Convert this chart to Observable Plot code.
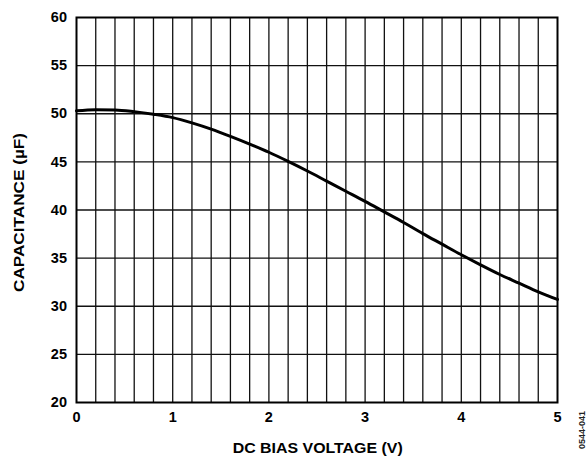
<!DOCTYPE html>
<html>
<head>
<meta charset="utf-8">
<script src="https://cdn.jsdelivr.net/npm/d3@7"></script>
<script src="https://cdn.jsdelivr.net/npm/@observablehq/plot@0.6"></script>
<style>
  html, body { margin: 0; padding: 0; background: #fff; }
  svg { display: block; }
</style>
</head>
<body>
<div id="chart"></div>
<script>
const voltage = [0, 0.2, 0.4, 0.6, 0.8, 1.0, 1.2, 1.4, 1.6, 1.8, 2.0, 2.2, 2.4, 2.6, 2.8, 3.0, 3.2, 3.4, 3.6, 3.8, 4.0, 4.2, 4.4, 4.6, 4.8, 5.0];
const capacitance = [50.3, 50.42, 50.4, 50.22, 49.95, 49.6, 49.05, 48.4, 47.65, 46.85, 46.0, 45.05, 44.05, 43.0, 41.95, 40.9, 39.8, 38.7, 37.55, 36.45, 35.35, 34.3, 33.3, 32.4, 31.5, 30.7];
const xTicks = [0, 1, 2, 3, 4, 5];
const yTicks = [20, 25, 30, 35, 40, 45, 50, 55, 60];
const xGrid = [0.2, 0.4, 0.6, 0.8, 1, 1.2, 1.4, 1.6, 1.8, 2, 2.2, 2.4, 2.6, 2.8, 3, 3.2, 3.4, 3.6, 3.8, 4, 4.2, 4.4, 4.6, 4.8];
const yGrid = [25, 30, 35, 40, 45, 50, 55];
const xLabel = "DC BIAS VOLTAGE (V)";
const yLabel = "CAPACITANCE (µF)";
const figCode = "0544-041";

const data = voltage.map((v, i) => ({v, c: capacitance[i]}));
const FONT = "'Liberation Sans', Arial, sans-serif";

const chart = Plot.plot({
  width: 587,
  height: 457,
  marginLeft: 76,
  marginRight: 30,
  marginTop: 17,
  marginBottom: 55,
  style: {fontFamily: FONT, fontWeight: "bold", color: "#000", background: "#fff"},
  x: {domain: [0, 5], label: null},
  y: {domain: [20, 60], label: null},
  marks: [
    Plot.ruleX(xGrid, {stroke: "#111", strokeWidth: 1.3}),
    Plot.ruleY(yGrid, {stroke: "#111", strokeWidth: 1.3}),
    Plot.frame({stroke: "#000", strokeWidth: 2}),
    Plot.line(data, {x: "v", y: "c", stroke: "#000", strokeWidth: 3, curve: "monotone-x"}),
    Plot.axisX({ticks: xTicks, tickSize: 0, tickPadding: 9, fontSize: 14.5, fontWeight: "bold", label: null, tickFormat: d => d}),
    Plot.axisY({ticks: yTicks, tickSize: 0, tickPadding: 9.5, fontSize: 14.5, fontWeight: "bold", label: null})
  ]
});

const svg = d3.select(chart);
svg.append("text")
  .attr("x", 317.7).attr("y", 453)
  .attr("text-anchor", "middle")
  .attr("font-size", 15).attr("font-weight", "bold")
  .attr("font-family", FONT)
  .attr("textLength", 170).attr("lengthAdjust", "spacingAndGlyphs")
  .text(xLabel);
svg.append("text")
  .attr("transform", "translate(24,212.5) rotate(-90)")
  .attr("text-anchor", "middle")
  .attr("font-size", 14.5).attr("font-weight", "bold")
  .attr("font-family", FONT)
  .attr("textLength", 159).attr("lengthAdjust", "spacingAndGlyphs")
  .text(yLabel);
svg.append("text")
  .attr("transform", "translate(585,430) rotate(-90)")
  .attr("text-anchor", "middle")
  .attr("font-size", 9)
  .attr("font-family", FONT)
  .attr("fill", "#222")
  .text(figCode);

document.getElementById("chart").append(chart);
</script>
</body>
</html>
